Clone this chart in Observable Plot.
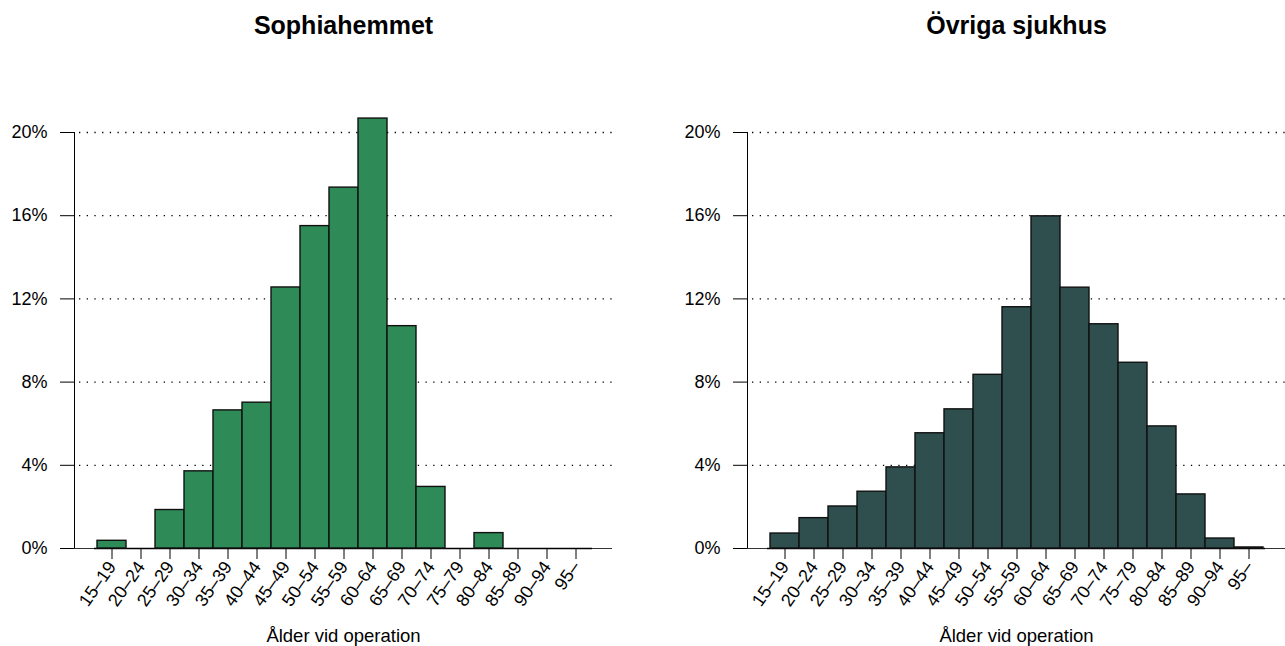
<!DOCTYPE html>
<html>
<head>
<meta charset="utf-8">
<script src="https://cdn.jsdelivr.net/npm/d3@7"></script>
<script src="https://cdn.jsdelivr.net/npm/@observablehq/plot@0.6"></script>
<style>
  html, body { margin: 0; padding: 0; background: #fff; }
  #wrap { position: relative; width: 1285px; height: 646px; overflow: hidden; }
  #left, #right { position: absolute; top: 0; }
  #left { left: 0; }
  #right { left: 642px; }
  svg { display: block; }
</style>
</head>
<body>
<div id="wrap"><div id="left"></div><div id="right"></div></div>
<script>
const ageGroups = ["15–19","20–24","25–29","30–34","35–39","40–44","45–49","50–54","55–59","60–64","65–69","70–74","75–79","80–84","85–89","90–94","95–"];
const sophiahemmet = [0.37, 0, 1.85, 3.71, 6.64, 7.01, 12.55, 15.50, 17.35, 20.67, 10.69, 2.96, 0, 0.74, 0, 0, 0];
const ovrigaSjukhus = [0.72, 1.46, 2.02, 2.73, 3.90, 5.54, 6.69, 8.35, 11.60, 15.97, 12.54, 10.78, 8.93, 5.87, 2.60, 0.48, 0.05];
const yTicks = [0, 4, 8, 12, 16, 20];
const gridTicks = [4, 8, 12, 16, 20];
const titles = ["Sophiahemmet", "Övriga sjukhus"];
const xTitle = "Ålder vid operation";
const colors = ["#2E8B57", "#2F4F4F"];

function panel(values, title, color, width, marginLeft, marginRight) {
  const data = ageGroups.map((age, i) => ({age, pct: values[i]}));
  return Plot.plot({
    width, height: 646,
    marginLeft, marginRight, marginTop: 132, marginBottom: 98,
    style: {fontFamily: "'Liberation Sans', Arial, Helvetica, sans-serif", fontSize: "18px", color: "#000", background: "#fff", overflow: "visible"},
    x: {domain: ageGroups, padding: 0, insetLeft: 20, insetRight: 20, label: null, tickSize: 11, tickPadding: 4, tickRotate: -55},
    y: {domain: [0, 20], ticks: yTicks, tickFormat: d => d + "%", tickSize: 14, tickPadding: 13, label: null, line: true},
    marks: [
      Plot.ruleY(gridTicks, {stroke: "#000", strokeWidth: 1.3, strokeDasharray: "1.3,6.4", strokeDashoffset: -5}),
      Plot.ruleY([0], {stroke: "#333", strokeWidth: 1}),
      Plot.ruleY([0], {stroke: "#000", strokeWidth: 1.6, insetLeft: 20, insetRight: 20}),
      Plot.barY(data, {x: "age", y: "pct", fill: color, stroke: "#111", strokeWidth: 1.4}),
      Plot.text([title], {frameAnchor: "top", dy: -99, lineAnchor: "bottom", fontSize: 25, fontWeight: "bold", fill: "#000"}),
      Plot.text([xTitle], {frameAnchor: "bottom", dy: 93, lineAnchor: "bottom", fontSize: 18.5, fill: "#000"})
    ]
  });
}

document.getElementById("left").appendChild(panel(sophiahemmet, titles[0], colors[0], 642, 74, 30));
document.getElementById("right").appendChild(panel(ovrigaSjukhus, titles[1], colors[1], 643, 105, 0));
</script>
</body>
</html>
